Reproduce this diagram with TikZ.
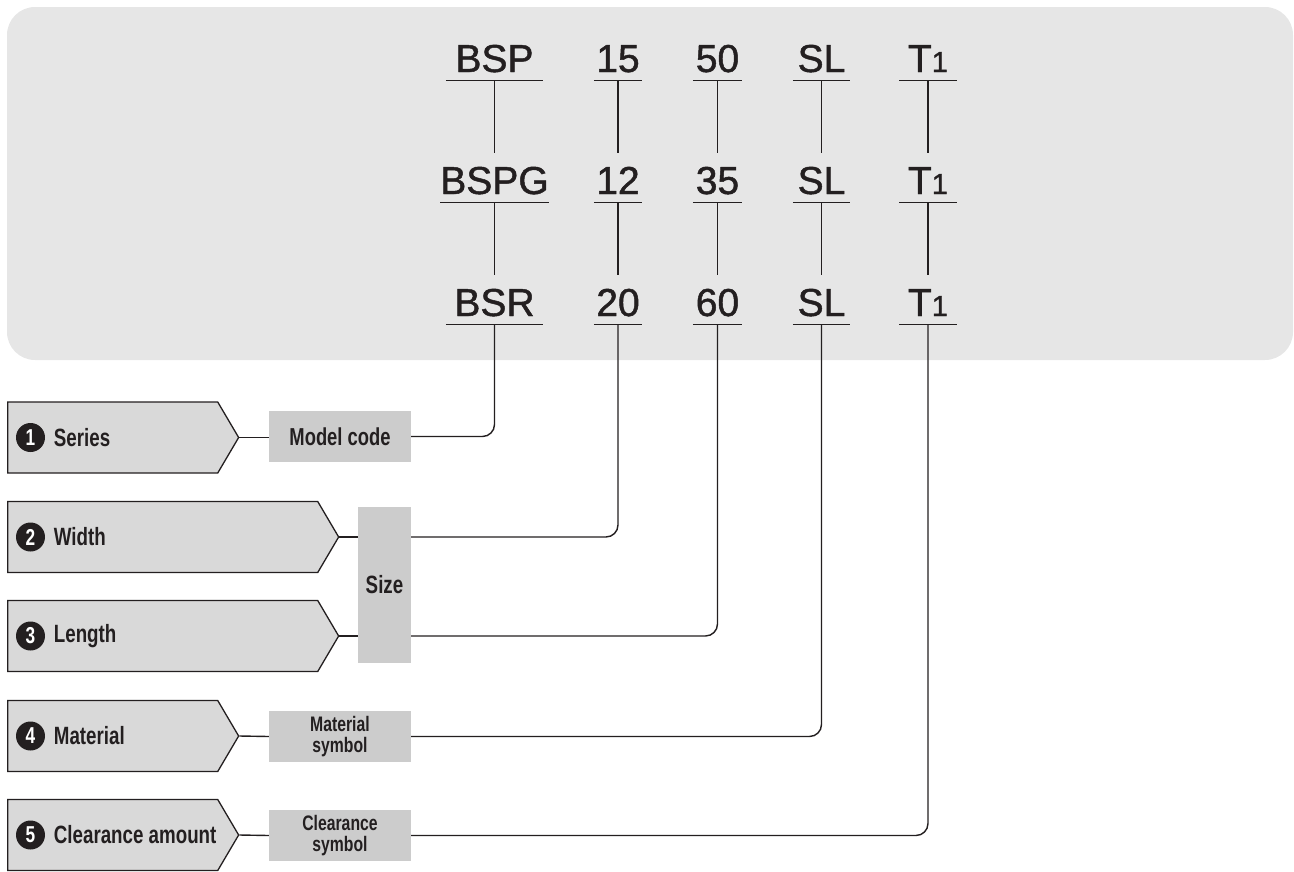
\documentclass[tikz,border=0pt]{standalone}
\usepackage{fontspec}
\setmainfont{Liberation Sans}
\newfontfamily\condfont[FakeStretch=0.75]{Liberation Sans}
\newfontfamily\codefont[FakeBold=1.2]{Liberation Sans}
\usetikzlibrary{positioning,shapes.symbols}
\definecolor{panelgray}{HTML}{E6E6E6}
\definecolor{tabgray}{HTML}{D9D9D9}
\definecolor{boxgray}{HTML}{CCCCCC}
\definecolor{inkdark}{HTML}{231F20}
\newcommand{\Tone}{T{\fontsize{29}{29}\selectfont 1}}

\begin{document}
\begin{tikzpicture}[x=1pt, y=-1pt,
    a/.style={draw=inkdark, line width=1.4pt},
    code/.style={font=\codefont\fontsize{39}{40}\selectfont, text=inkdark, anchor=base,
               inner xsep=0pt, inner ysep=8pt, text height=33pt, text depth=0pt,
               append after command={(\tikzlastnode.south west) edge[a] (\tikzlastnode.south east)}},
    tab/.style={signal, signal to=east, signal pointer angle=119, draw=inkdark,
               fill=tabgray, line width=1.3pt, minimum height=71pt, inner sep=0pt, anchor=west},
    num/.style={circle, fill=inkdark, text=white, minimum size=29pt, inner sep=0pt,
               font=\condfont\bfseries\fontsize{23}{23}\selectfont},
    lbl/.style={font=\condfont\bfseries\fontsize{25}{26}\selectfont, text=inkdark,
               anchor=west, inner sep=0pt},
    tag/.style={fill=boxgray, text=inkdark, align=center, inner sep=0pt,
               minimum width=142pt, minimum height=51pt,
               font=\condfont\bfseries\fontsize{21}{21}\selectfont}
  ]
  \useasboundingbox (0,0) rectangle (1294,871);
  \fill[panelgray, rounded corners=28pt] (7,7) rectangle (1293,360);

  % codes
  \node[code, minimum width=97pt] (r1c1) at (494.5,72) {BSP};
  \node[code, minimum width=48pt] (r1c2) at (618,72) {15};
  \node[code, minimum width=49pt] (r1c3) at (717.5,72) {50};
  \node[code, minimum width=57pt] (r1c4) at (821.5,72) {SL};
  \node[code, minimum width=57pt] (r1c5) at (928,72) {\Tone};

  \node[code, minimum width=97pt] (r2c1) at (494.5,194) {BSPG};
  \node[code, minimum width=48pt] (r2c2) at (618,194) {12};
  \node[code, minimum width=49pt] (r2c3) at (717.5,194) {35};
  \node[code, minimum width=57pt] (r2c4) at (821.5,194) {SL};
  \node[code, minimum width=57pt] (r2c5) at (928,194) {\Tone};

  \node[code, minimum width=97pt] (r3c1) at (494.5,316) {BSR};
  \node[code, minimum width=48pt] (r3c2) at (618,316) {20};
  \node[code, minimum width=49pt] (r3c3) at (717.5,316) {60};
  \node[code, minimum width=57pt] (r3c4) at (821.5,316) {SL};
  \node[code, minimum width=57pt] (r3c5) at (928,316) {\Tone};

  \draw[a] (r1c1.south) -- (r2c1.north);
  \draw[a] (r1c2.south) -- (r2c2.north);
  \draw[a] (r1c3.south) -- (r2c3.north);
  \draw[a] (r1c4.south) -- (r2c4.north);
  \draw[a] (r1c5.south) -- (r2c5.north);
  \draw[a] (r2c1.south) -- (r3c1.north);
  \draw[a] (r2c2.south) -- (r3c2.north);
  \draw[a] (r2c3.south) -- (r3c3.north);
  \draw[a] (r2c4.south) -- (r3c4.north);
  \draw[a] (r2c5.south) -- (r3c5.north);

  % items
  \node[tab, minimum width=231pt] (p1) at (7,437.5) {};
  \node[tab, minimum width=331pt] (p2) at (7,537) {};
  \node[tab, minimum width=331pt] (p3) at (7,636) {};
  \node[tab, minimum width=231pt] (p4) at (7,736) {};
  \node[tab, minimum width=231pt] (p5) at (7,835) {};

  \node[num] (k1) at (30.5,437.5) {1};
  \node[num] (k2) at (30.5,537) {2};
  \node[num] (k3) at (30.5,636) {3};
  \node[num] (k4) at (30.5,736) {4};
  \node[num] (k5) at (30.5,835) {5};

  \node[lbl, right=8.5pt of k1] (l1) {Series};
  \node[lbl, right=8.5pt of k2] (l2) {Width};
  \node[lbl, right=8.5pt of k3] (l3) {Length};
  \node[lbl, right=8.5pt of k4] (l4) {Material};
  \node[lbl, right=8.5pt of k5] (l5) {Clearance amount};

  % boxes
  \node[tag, font=\condfont\bfseries\fontsize{24.5}{24}\selectfont] (mc) at (340,436.5) {Model code};
  \node[tag, minimum width=53pt, minimum height=156pt,
        font=\condfont\bfseries\fontsize{25}{24}\selectfont] (size) at (384.5,585) {Size};
  \node[tag] (ms) at (340,736.5) {Material\\symbol};
  \node[tag] (cs) at (340,835.5) {Clearance\\symbol};

  \draw[a] (p1.east) -- (p1.east -| mc.west);
  \draw[a, rounded corners=12pt] (mc.east) -| (r3c1.south);
  \draw[a] (p2.east) -- (p2.east -| size.west);
  \draw[a, rounded corners=12pt] (p2.east -| size.east) -| (r3c2.south);
  \draw[a] (p3.east) -- (p3.east -| size.west);
  \draw[a, rounded corners=12pt] (p3.east -| size.east) -| (r3c3.south);
  \draw[a] (p4.east) -- (ms.west);
  \draw[a, rounded corners=12pt] (ms.east) -| (r3c4.south);
  \draw[a] (p5.east) -- (cs.west);
  \draw[a, rounded corners=12pt] (cs.east) -| (r3c5.south);
\end{tikzpicture}
\end{document}
